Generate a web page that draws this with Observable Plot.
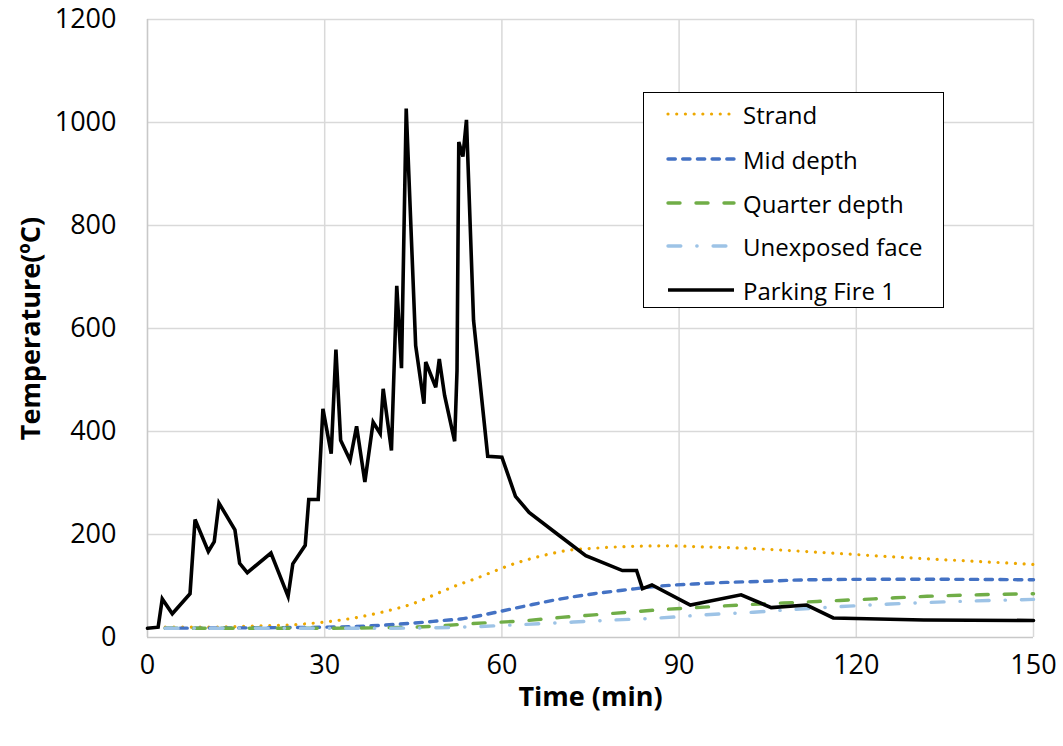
<!DOCTYPE html>
<html>
<head>
<meta charset="utf-8">
<script src="https://cdn.jsdelivr.net/npm/d3@7"></script>
<script src="https://cdn.jsdelivr.net/npm/@observablehq/plot@0.6"></script>
<style>
  html, body { margin: 0; padding: 0; background: #fff; }
  #wrap { position: relative; width: 1063px; height: 746px; font-family: "Open Sans", sans-serif; }
  #legend {
    position: absolute; left: 643px; top: 92px; width: 301px; height: 216px;
    border: 1.6px solid #000; background: #fff; box-sizing: border-box;
  }
  .row { position: absolute; left: 0; height: 30px; display: flex; align-items: center; }
  .row svg { margin-left: 22px; }
  .row span { margin-left: 7px; font-size: 24px; color: #000; white-space: nowrap; }
</style>
</head>
<body>
<div id="wrap">
  <div id="chart"></div>
  <div id="legend"></div>
</div>
<script>
// Tick values
const xTicks = [0, 30, 60, 90, 120, 150];
const yTicks = [0, 200, 400, 600, 800, 1000, 1200];

// Series names
const seriesNames = ["Strand", "Mid depth", "Quarter depth", "Unexposed face", "Parking Fire 1"];

// Strand temperature (°C) vs time (min)
const strandTime = [3, 10, 20, 25, 30, 35, 40, 45, 50, 53, 55, 59, 61.5, 64.3, 68, 71, 74, 78, 82, 88, 94, 100, 110, 120, 130, 140, 150];
const strandTemp = [20, 20, 23, 25, 30, 38, 50, 66, 90, 104, 112, 130, 141, 151, 162, 169, 172, 175, 177, 178, 176, 174, 168, 161, 154, 148, 142];

// Mid depth
const midTime = [3, 20, 30, 40, 45, 50, 53, 58.6, 64.3, 70, 75.6, 81.3, 86.9, 92.5, 98, 104, 111.7, 123, 134, 150];
const midTemp = [18, 19, 20, 24, 28, 33, 36, 48, 62, 75, 85, 93, 100, 104, 107, 109, 112, 113, 113, 112];

// Quarter depth
const quarterTime = [3, 30, 40, 45, 50, 55, 64.3, 70, 75.6, 81.3, 86.9, 94.2, 103.7, 107.7, 113.4, 123, 132, 141, 150];
const quarterTemp = [18, 18, 19, 20, 23, 27, 33, 39, 44, 49, 54, 59, 65, 67, 70, 75, 80, 83, 85];

// Unexposed face
const unexposedTime = [3, 40, 52.9, 63, 72.2, 79, 86.9, 94.2, 102.6, 108.8, 117.3, 125.8, 132, 146.6, 150];
const unexposedTemp = [18, 18, 20, 25, 30, 34, 38, 44, 49, 54, 60, 65, 68, 73, 74];

// Parking Fire 1 gas temperature
const fireTime = [0, 1.8, 2.5, 4.2, 7.2, 8.05, 10.3, 11.3, 12.1, 14.8, 15.6, 16.9, 20.9, 23.8, 24.6, 26.7, 27.3, 28.9, 29.7, 31.1, 31.9, 32.7, 34.3, 35.4, 36.8, 38.2, 39.4, 39.9, 41.3, 42.2, 43.0, 43.8, 45.4, 46.8, 47.1, 48.8, 49.4, 50.3, 52.0, 52.4, 52.7, 53.4, 54.0, 55.2, 57.6, 60.0, 62.3, 64.6, 69.7, 74.2, 80.4, 82.8, 83.8, 85.4, 91.9, 93.6, 100.5, 105.6, 111.6, 116.1, 131.4, 150];
const fireTemp = [18, 20, 75, 46, 85, 229, 167, 186, 261, 209, 144, 126, 164, 80, 143, 179, 268, 268, 444, 357, 559, 383, 344, 410, 302, 418, 396, 483, 363, 683, 523, 1027, 567, 454, 535, 486, 541, 470, 381, 518, 962, 934, 1005, 616, 352, 350, 274, 243, 198, 159, 130, 130, 95, 102, 63, 67, 83, 58, 63, 38, 34, 33];

// Stroke styles per series
const styles = [
  {stroke: "#EDA800", strokeWidth: 3.2, strokeDasharray: "0.01 8.7", strokeLinecap: "round"},
  {stroke: "#4472C4", strokeWidth: 3.4, strokeDasharray: "7.3 7.4", strokeLinecap: "round"},
  {stroke: "#70AD47", strokeWidth: 3.4, strokeDasharray: "12 16", strokeLinecap: "round"},
  {stroke: "#9DC3E6", strokeWidth: 3.4, strokeDasharray: "12.8 16 0.3 16", strokeLinecap: "round"},
  {stroke: "#000000", strokeWidth: 3.6, strokeLinejoin: "miter", strokeMiterlimit: 4}
];

const toRows = (ts, vs) => ts.map((t, i) => ({t, v: vs[i]}));
const seriesData = [
  toRows(strandTime, strandTemp),
  toRows(midTime, midTemp),
  toRows(quarterTime, quarterTemp),
  toRows(unexposedTime, unexposedTemp),
  toRows(fireTime, fireTemp)
];
const smooth = [true, true, true, true, false];

const chart = Plot.plot({
  width: 1063,
  height: 746,
  marginLeft: 147,
  marginRight: 30,
  marginTop: 19,
  marginBottom: 109,
  style: {fontFamily: "'Open Sans', sans-serif", fontSize: "27px", color: "#000", background: "#fff"},
  x: {domain: [0, 150], label: null},
  y: {domain: [0, 1200], label: null},
  marks: [
    Plot.gridX(xTicks.slice(1), {stroke: "#d9d9d9", strokeOpacity: 1, strokeWidth: 1.5}),
    Plot.gridY(yTicks.slice(1), {stroke: "#d9d9d9", strokeOpacity: 1, strokeWidth: 1.5}),
    Plot.ruleX([0], {stroke: "#c8c8c8", strokeWidth: 1.6}),
    Plot.ruleY([0], {stroke: "#c8c8c8", strokeWidth: 1.6}),
    Plot.axisX(xTicks, {tickSize: 0, tickPadding: 17, fontSize: 27, fill: "#000", tickFormat: "d", label: null}),
    Plot.axisY(yTicks, {tickSize: 0, tickPadding: 31, fontSize: 27, fill: "#000", tickFormat: "d", label: null}),
    ...seriesData.map((d, i) => Plot.line(d, {
      x: "t", y: "v", curve: smooth[i] ? "monotone-x" : "linear", ...styles[i]
    })),
    Plot.text(["Time (min)"], {frameAnchor: "bottom", dy: 60, lineAnchor: "middle", textAnchor: "middle", fontWeight: "bold", fontSize: 27, fill: "#000"}),
    Plot.text(["Temperature(ºC)"], {frameAnchor: "left", dx: -116, rotate: -90, lineAnchor: "middle", textAnchor: "middle", fontWeight: "bold", fontSize: 27, fill: "#000"})
  ]
});
document.getElementById("chart").appendChild(chart);

// Legend with line samples
const legend = document.getElementById("legend");
const rowTops = [6, 51, 95, 138, 182];
seriesNames.forEach((name, i) => {
  const row = document.createElement("div");
  row.className = "row";
  row.style.top = rowTops[i] + "px";
  const s = styles[i];
  row.innerHTML = `<svg width="70" height="12"><line x1="2" x2="68" y1="6" y2="6" stroke="${s.stroke}" stroke-width="${s.strokeWidth}" ${s.strokeDasharray ? `stroke-dasharray="${s.strokeDasharray}"` : ""} stroke-linecap="${s.strokeLinecap || "butt"}"/></svg><span>${name}</span>`;
  legend.appendChild(row);
});
</script>
</body>
</html>
